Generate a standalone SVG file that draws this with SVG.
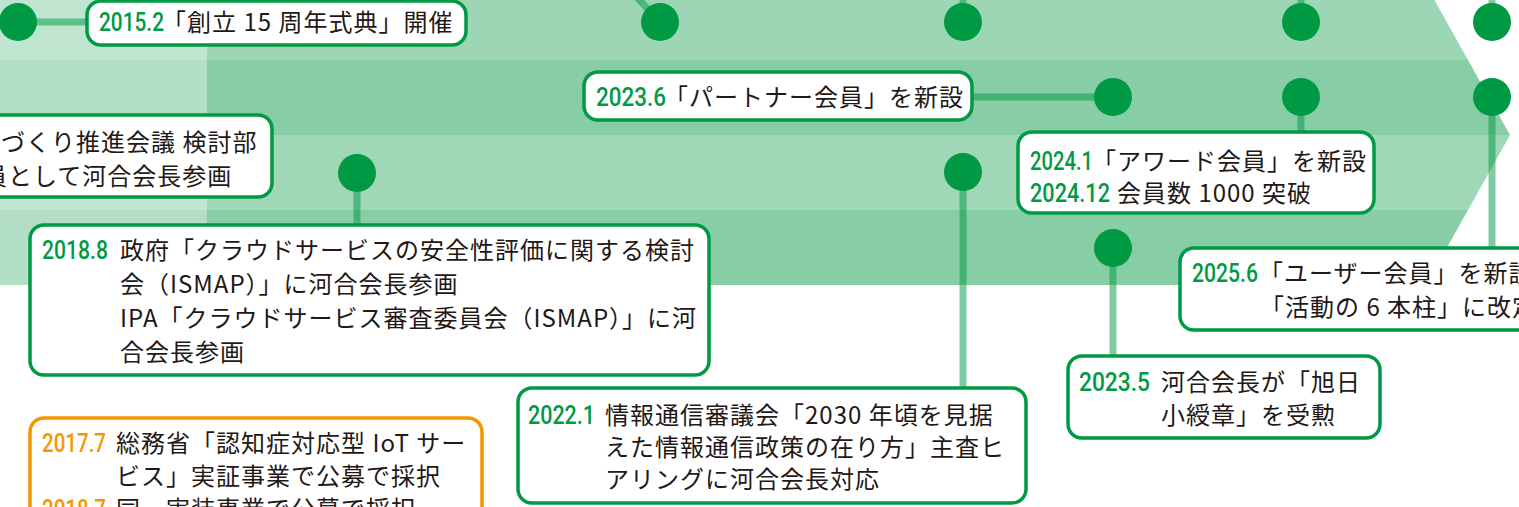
<svg xmlns="http://www.w3.org/2000/svg" width="1519" height="507" viewBox="0 0 1519 507">
<style>
.jp{font-family:"Noto Sans CJK JP","Noto Sans",sans-serif;font-size:24px;letter-spacing:1px;fill:#231815}
.d{font-family:Roboto,"Liberation Sans",sans-serif;font-weight:500;font-size:25px;fill:#009944}
.o{fill:#f39800}
.box{fill:#fff;stroke:#009944;stroke-width:3.5}
.obox{fill:#fff;stroke:#f39800;stroke-width:3.5}
.dot{fill:#009944}
.con{stroke:#009944;stroke-opacity:0.5;stroke-width:7;fill:none}
</style>
<defs>
<clipPath id="arrow"><polygon points="-10,-15 1426,-15 1510,135 1426,285 -10,285"/></clipPath>
</defs>
<g id="band" clip-path="url(#arrow)">
<rect x="-10" y="-15" width="1530" height="75" fill="#9dd6b5"/>
<rect x="-10" y="60" width="1530" height="75" fill="#87cda5"/>
<rect x="-10" y="135" width="1530" height="75" fill="#9fd7b7"/>
<rect x="-10" y="210" width="1530" height="75" fill="#87cda5"/>
<rect x="-10" y="-15" width="217" height="300" fill="#fff" fill-opacity="0.35"/>
</g>
<g id="connectors">
<line class="con" x1="18" y1="22" x2="87" y2="22"/>
<line class="con" x1="660" y1="22" x2="630" y2="-10"/>
<line class="con" x1="963" y1="22" x2="963" y2="-10"/>
<line class="con" x1="1301" y1="22" x2="1301" y2="-10"/>
<line class="con" x1="1492" y1="22" x2="1492" y2="-10"/>
<line class="con" x1="972" y1="97" x2="1113" y2="97"/>
<line class="con" x1="1301" y1="97" x2="1301" y2="132"/>
<line class="con" x1="1492" y1="97" x2="1492" y2="248"/>
<line class="con" x1="357" y1="173" x2="357" y2="225"/>
<line class="con" x1="963" y1="172" x2="963" y2="388"/>
<line class="con" x1="1113" y1="248" x2="1113" y2="356"/>
</g>
<g id="markers">
<circle class="dot" cx="18" cy="22" r="19"/>
<circle class="dot" cx="660" cy="22" r="19"/>
<circle class="dot" cx="963" cy="22" r="19"/>
<circle class="dot" cx="1301" cy="22" r="19"/>
<circle class="dot" cx="1492" cy="22" r="19"/>
<circle class="dot" cx="1113" cy="97" r="19"/>
<circle class="dot" cx="1301" cy="97" r="19"/>
<circle class="dot" cx="1492" cy="97" r="19"/>
<circle class="dot" cx="357" cy="173" r="19"/>
<circle class="dot" cx="963" cy="172" r="19"/>
<circle class="dot" cx="1113" cy="248" r="19"/>
</g>
<g id="e2015-2">
<rect class="box" x="87" y="1" width="379" height="44" rx="14"/>
<text class="d" x="99" y="31" textLength="65" lengthAdjust="spacingAndGlyphs">2015.2</text>
<text class="jp" x="162" y="31">「創立 15 周年式典」開催</text>
</g>
<g id="e-kentou">
<rect class="box" x="-20" y="115" width="292" height="82" rx="14"/>
<text class="jp" x="1" y="151">づくり推進会議 検討部</text>
<text class="jp" x="-17" y="185">員として河合会長参画</text>
</g>
<g id="e2023-6">
<rect class="box" x="584" y="72" width="388" height="48" rx="14"/>
<text class="d" x="596" y="106" textLength="70" lengthAdjust="spacingAndGlyphs">2023.6</text>
<text class="jp" x="664" y="106">「パートナー会員」を新設</text>
</g>
<g id="e2024-1">
<rect class="box" x="1018" y="132" width="356" height="81" rx="14"/>
<text class="d" x="1030" y="170" textLength="63" lengthAdjust="spacingAndGlyphs">2024.1</text>
<text class="jp" x="1092" y="170">「アワード会員」を新設</text>
<text class="d" x="1030" y="202" textLength="80" lengthAdjust="spacingAndGlyphs">2024.12</text>
<text class="jp" x="1117" y="202">会員数 1000 突破</text>
</g>
<g id="e2018-8">
<rect class="box" x="30" y="225" width="679" height="150" rx="14"/>
<text class="d" x="42" y="259" textLength="66" lengthAdjust="spacingAndGlyphs">2018.8</text>
<text class="jp" x="120" y="259">政府「クラウドサービスの安全性評価に関する検討</text>
<text class="jp" x="120" y="293">会（ISMAP）」に河合会長参画</text>
<text class="jp" x="120" y="327">IPA「クラウドサービス審査委員会（ISMAP）」に河</text>
<text class="jp" x="120" y="361">合会長参画</text>
</g>
<g id="e2025-6">
<rect class="box" x="1180" y="248" width="360" height="82" rx="14"/>
<text class="d" x="1192" y="282" textLength="66" lengthAdjust="spacingAndGlyphs">2025.6</text>
<text class="jp" x="1259" y="282">「ユーザー会員」を新設</text>
<text class="jp" x="1260" y="316">「活動の 6 本柱」に改定</text>
</g>
<g id="e2023-5">
<rect class="box" x="1068" y="356" width="312" height="82" rx="14"/>
<text class="d" x="1079" y="391" textLength="71" lengthAdjust="spacingAndGlyphs">2023.5</text>
<text class="jp" x="1161" y="391">河合会長が「旭日</text>
<text class="jp" x="1161" y="424">小綬章」を受勲</text>
</g>
<g id="e2022-1">
<rect class="box" x="518" y="388" width="508" height="115" rx="14"/>
<text class="d" x="528" y="424" textLength="67" lengthAdjust="spacingAndGlyphs">2022.1</text>
<text class="jp" x="605" y="424">情報通信審議会「2030 年頃を見据</text>
<text class="jp" x="605" y="456">えた情報通信政策の在り方」主査ヒ</text>
<text class="jp" x="605" y="488">アリングに河合会長対応</text>
</g>
<g id="e2017-7">
<rect class="obox" x="30" y="418" width="452" height="120" rx="14"/>
<text class="d o" x="42" y="452" textLength="64" lengthAdjust="spacingAndGlyphs">2017.7</text>
<text class="jp" x="116" y="452">総務省「認知症対応型 IoT サー</text>
<text class="jp" x="116" y="485">ビス」実証事業で公募で採択</text>
<text class="d o" x="42" y="518" textLength="64" lengthAdjust="spacingAndGlyphs">2018.7</text>
<text class="jp" x="116" y="518">同　実装事業で公募で採択</text>
</g>
</svg>
